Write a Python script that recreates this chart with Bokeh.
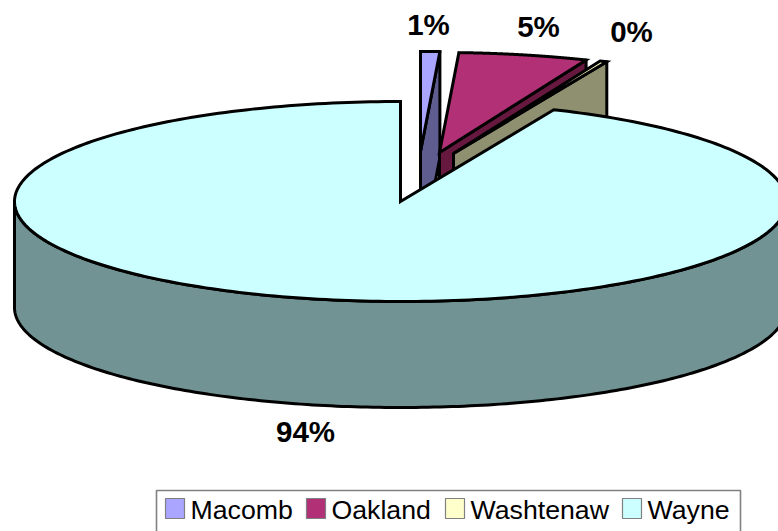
import numpy as np
from bokeh.plotting import figure
from bokeh.models import Range1d
from bokeh.core.properties import value
from bokeh.embed import file_html
from bokeh.resources import INLINE

counties = ["Macomb", "Oakland", "Washtenaw", "Wayne"]
shares = [0.8, 5.4, 0.3, 93.5]
pct_labels = ["1%", "5%", "0%", "94%"]
top_colors = ["#AAA6FF", "#B23075", "#FFFFCC", "#CCFFFF"]
wall_colors = ["#5F5D90", "#66183F", "#8F9070", "#729393"]

# apex of each exploded wedge (reference pixels)
apex_x = [420, 439, 453, 400]
apex_y = [151, 152, 153, 201]
RX, RY, DEPTH = 386, 100, 106
LW = 3

W, H = 778, 531
p = figure(width=W, height=H, output_backend="svg", toolbar_location=None,
           x_range=Range1d(0, W), y_range=Range1d(H, 0),
           min_border=0, outline_line_color=None)
p.axis.visible = False
p.grid.visible = False


def ell(cx, cy, deg):
    t = np.radians(deg)
    return cx + RX * np.sin(t), cy - RY * np.cos(t)


edges = np.concatenate([[0], np.cumsum(shares)]) * 3.6
for i in range(4):
    cx, cy = apex_x[i], apex_y[i]
    a0, a1 = edges[i], edges[i + 1]
    if i < 3:
        ex, ey = ell(cx, cy, a1)
        p.patch([cx, ex, ex, cx], [cy, ey, ey + DEPTH, cy + DEPTH],
                fill_color=wall_colors[i], line_color="black", line_width=LW, line_join="round")
    else:
        th = np.linspace(90, 270, 200)
        ax, ay = ell(cx, cy, th)
        p.patch(np.r_[ax, ax[::-1]], np.r_[ay, ay[::-1] + DEPTH],
                fill_color=wall_colors[i], line_color="black", line_width=LW, line_join="round")
    th = np.linspace(a0, a1, 300)
    ax, ay = ell(cx, cy, th)
    p.patch(np.r_[cx, ax], np.r_[cy, ay], fill_color=top_colors[i],
            line_color="black", line_width=LW, line_join="miter")

label_x = [428, 538, 631, 305]
label_y = [24, 26, 31, 431]
p.text(label_x, label_y, text=pct_labels, text_font=value("Liberation Sans"),
       text_font_style="bold", text_font_size="29.5px", text_align="center",
       text_baseline="middle", text_color="black")

# legend
p.quad(left=[156], right=[740], top=[490], bottom=[560], fill_color="white",
       line_color="#808080", line_width=1.6)
sw_x = [165, 306, 445, 622]
p.quad(left=sw_x, right=[x + 19 for x in sw_x], top=[498] * 4, bottom=[518] * 4,
       fill_color=top_colors, line_color="#808080", line_width=1.2)
p.text([x + 25 for x in sw_x], [509] * 4, text=counties, text_font=value("Liberation Sans"),
       text_font_size="26.7px", text_baseline="middle", text_color="black")

open("out.html", "w").write(file_html(p, INLINE))
